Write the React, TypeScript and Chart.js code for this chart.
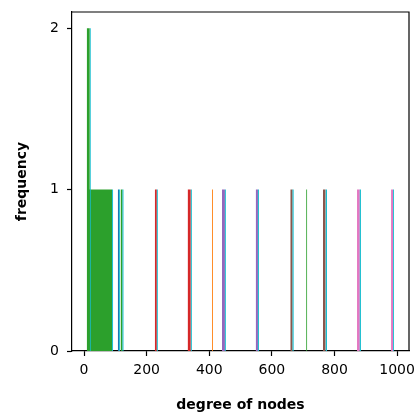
import React, { useEffect, useRef } from "react";
import { Chart, registerables } from "chart.js";

Chart.register(...registerables);

// histogram bins: start, end, count, series
const binStart = [8.6, 8.6, 18.2, 89.5, 107.8, 112, 117.4, 122.8, 226, 232.5, 331.6, 341.2, 408.4, 440.4, 450, 549, 555.5, 658.8, 666, 709.8, 763.4, 772, 872, 880.8, 980.8, 987.2];
const binEnd = [18.2, 89.5, 21.4, 92.7, 112, 115, 122.8, 126, 232.5, 235.7, 341.2, 344.4, 411.6, 450, 453, 555.5, 558.7, 666, 669.5, 713, 772, 776, 880.8, 884.5, 987.2, 990.4];
const binCount = [2, 1, 2, 1, 1, 1, 1, 1, 1, 1, 1, 1, 1, 1, 1, 1, 1, 1, 1, 1, 1, 1, 1, 1, 1, 1];
const binSeries = ["green", "green", "cyan", "cyan", "blue", "cyan", "green", "cyan", "red", "cyan", "red", "cyan", "orange", "purple", "cyan", "purple", "cyan", "brown", "cyan", "green", "brown", "cyan", "pink", "cyan", "pink", "cyan"];
const seriesNames = ["cyan", "blue", "orange", "green", "red", "purple", "brown", "pink"];
const seriesColors = ["#17becf", "#1f77b4", "#ff7f0e", "#2ca02c", "#d62728", "#9467bd", "#8c564b", "#e377c2"];
const xTicks = [0, 200, 400, 600, 800, 1000];
const yTicks = [0, 1, 2];

export default function App() {
  const ref = useRef<HTMLCanvasElement>(null);
  useEffect(() => {
    const datasets = seriesNames.map((name, si) => {
      const pts: { x: number; y: number }[] = [];
      binStart.forEach((s, i) => {
        if (binSeries[i] !== name) return;
        const e = binEnd[i];
        const c = binCount[i];
        pts.push({ x: s, y: 0 }, { x: s, y: c }, { x: e, y: c }, { x: e, y: 0 });
      });
      return {
        label: name,
        data: pts,
        borderWidth: 0,
        borderColor: "rgba(0,0,0,0)",
        backgroundColor: seriesColors[si],
        pointRadius: 0,
        fill: "origin",
        tension: 0,
      };
    });
    const chart = new Chart(ref.current!, {
      type: "line",
      data: { datasets: datasets as any },
      options: {
        animation: false,
        responsive: false,
        maintainAspectRatio: false,
        layout: { padding: { left: 0, right: 7, top: 12, bottom: 0 } },
        plugins: { legend: { display: false }, tooltip: { enabled: false } },
        scales: {
          x: {
            type: "linear",
            min: -38.4,
            max: 1038,
            afterFit: (s: any) => { s.height = 63; s.paddingRight = 0; s.paddingLeft = 0; },
            afterBuildTicks: (s: any) => { s.ticks = xTicks.map((v) => ({ value: v })); },
            border: { color: "#000", width: 1.2 },
            grid: { drawOnChartArea: false, tickLength: 5, tickColor: "#000", tickWidth: 1.2 },
            ticks: { color: "#000", padding: 6, font: { family: "DejaVu Sans", size: 14 }, maxRotation: 0, callback: (v: any) => String(v) },
            title: { display: true, text: "degree of nodes", color: "#000", padding: { top: 3, bottom: 0 }, font: { family: "DejaVu Sans", size: 14, weight: "bold" } },
          },
          y: {
            type: "linear",
            min: 0,
            max: 2.1,
            afterFit: (s: any) => { s.width = 72; s.paddingTop = 0; s.paddingBottom = 0; },
            afterBuildTicks: (s: any) => { s.ticks = yTicks.map((v) => ({ value: v })); },
            border: { color: "#000", width: 1.2 },
            grid: { drawOnChartArea: false, tickLength: 5, tickColor: "#000", tickWidth: 1.2 },
            ticks: { color: "#000", padding: 8, font: { family: "DejaVu Sans", size: 14 }, callback: (v: any) => String(v) },
            title: { display: true, text: "frequency", color: "#000", padding: { top: 14, bottom: 0 }, font: { family: "DejaVu Sans", size: 14, weight: "bold" } },
          },
        },
      },
      plugins: [
        {
          id: "frame",
          afterDraw: (c: any) => {
            const a = c.chartArea;
            const ctx = c.ctx;
            ctx.save();
            ctx.strokeStyle = "#000";
            ctx.lineWidth = 1.2;
            ctx.beginPath();
            ctx.moveTo(a.left, a.top);
            ctx.lineTo(a.right, a.top);
            ctx.lineTo(a.right, a.bottom);
            ctx.stroke();
            ctx.restore();
          },
        },
      ],
    });
    return () => chart.destroy();
  }, []);
  return (
    <div style={{ position: "fixed", left: 0, top: 0, width: 416, height: 414, background: "#fff" }}>
      <canvas ref={ref} width={416} height={414} style={{ width: 416, height: 414 }} />
    </div>
  );
}
